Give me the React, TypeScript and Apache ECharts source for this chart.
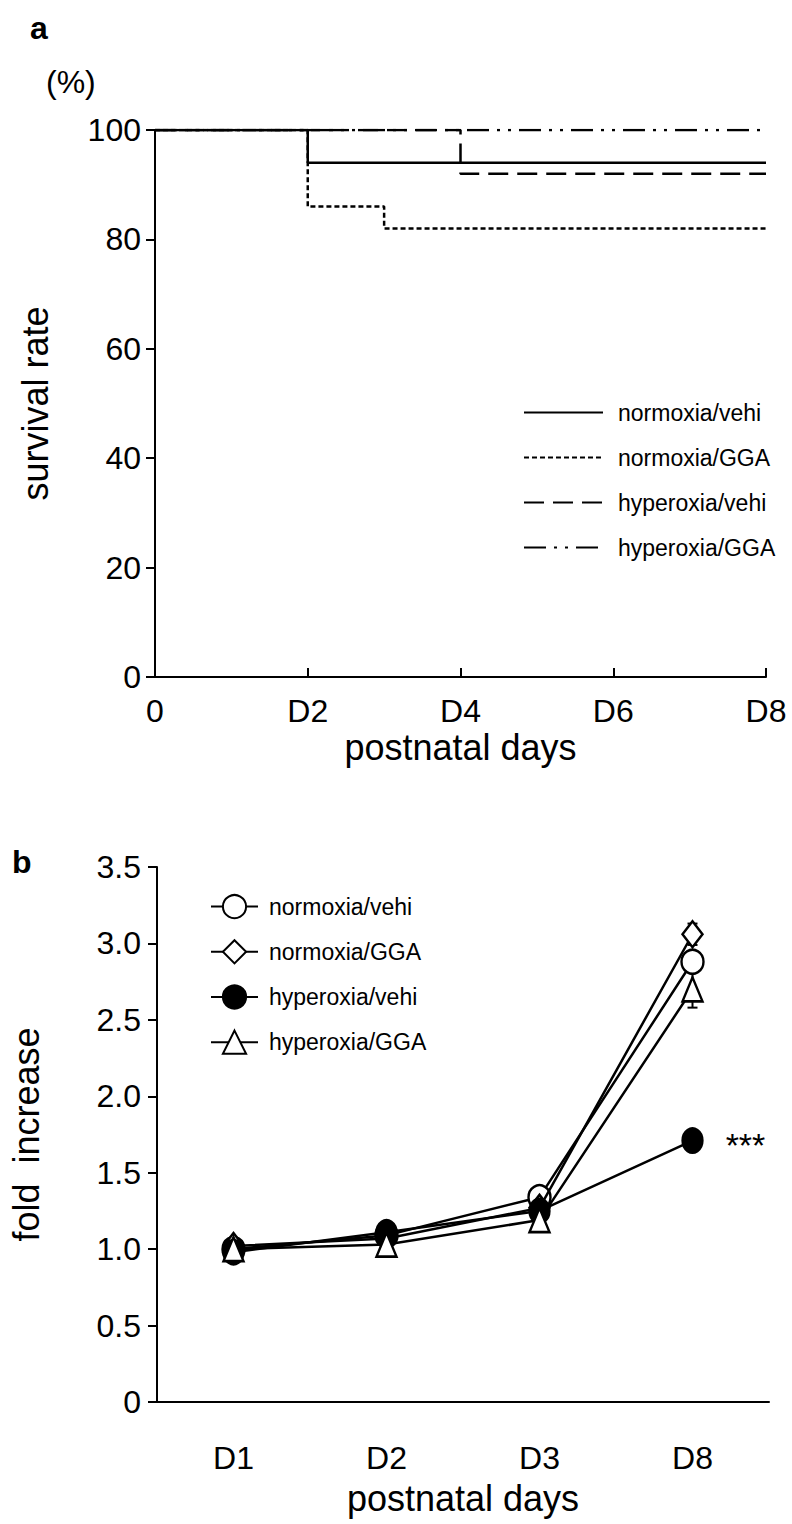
import React, { useEffect, useRef } from "react";
import * as echarts from "echarts";

// ---- Panel a: survival (Kaplan–Meier style steps) ----
const survivalDays = [0, 2, 3, 4, 8];
const survNormVehi = [100, 94, 94, 94, 94];
const survNormGGA = [100, 86, 82, 82, 82];
const survHypVehi = [100, 100, 100, 92, 92];
const survHypGGA = [100, 100, 100, 100, 100];
const survTickValues = [0, 2, 4, 6, 8];
const survTickLabels = ["0", "D2", "D4", "D6", "D8"];

// ---- Panel b: fold increase ----
const foldDays = ["D1", "D2", "D3", "D8"];
const foldNormVehi = [1.0, 1.09, 1.34, 2.88];
const foldNormGGA = [1.02, 1.07, 1.27, 3.06];
const foldHypVehi = [0.98, 1.11, 1.25, 1.71];
const foldHypGGA = [1.0, 1.03, 1.19, 2.7];
const errNormVehi = [0.03, 0.02, 0.03, 0.06];
const errNormGGA = [0.02, 0.02, 0.03, 0.07];
const errHypVehi = [0.03, 0.02, 0.03, 0.03];
const errHypGGA = [0.02, 0.02, 0.03, 0.12];

const seriesNames = ["normoxia/vehi", "normoxia/GGA", "hyperoxia/vehi", "hyperoxia/GGA"];

const FONT = "'Liberation Sans', Arial, Helvetica, sans-serif";

export default function App() {
  const ref = useRef<HTMLDivElement>(null);

  useEffect(() => {
    if (!ref.current) return;
    const chart = echarts.init(ref.current, undefined, { renderer: "svg" });

    const pair = (ys: number[]) => survivalDays.map((d, i) => [d, ys[i]]);
    const survStyles: any[] = [
      { data: survNormVehi, type: "solid" },
      { data: survNormGGA, type: [5, 3] },
      { data: survHypVehi, type: [20, 9] },
      { data: survHypGGA, type: [22, 8, 3, 8, 3, 8] },
    ];

    const survSeries = survStyles.map((s, i) => ({
      name: "a|" + seriesNames[i],
      type: "line",
      xAxisIndex: 0,
      yAxisIndex: 0,
      step: "end",
      symbol: "none",
      data: pair(s.data),
      lineStyle: { color: "#000", width: 2.5, type: s.type },
      itemStyle: { color: "rgba(0,0,0,0)", borderWidth: 0 },
      z: 3 + i,
    }));

    const foldSets = [
      { data: foldNormVehi, err: errNormVehi, symbol: "circle", fill: "#fff", size: [22, 24] },
      { data: foldNormGGA, err: errNormGGA, symbol: "diamond", fill: "#fff", size: [20, 26] },
      { data: foldHypVehi, err: errHypVehi, symbol: "circle", fill: "#000", size: [20, 24] },
      { data: foldHypGGA, err: errHypGGA, symbol: "triangle", fill: "#fff", size: [20, 24] },
    ];

    const errSeries = foldSets.map((s, i) => ({
      name: "err|" + seriesNames[i],
      type: "custom",
      xAxisIndex: 1,
      yAxisIndex: 1,
      z: 1,
      silent: true,
      encode: { x: 0, y: [1, 2] },
      data: s.data.map((v, j) => [j, v - s.err[j], v + s.err[j]]),
      renderItem: (params: any, api: any) => {
        const x = api.value(0);
        const lo = api.coord([x, api.value(1)]);
        const hi = api.coord([x, api.value(2)]);
        const w = 5;
        const st = { stroke: "#000", lineWidth: 2 };
        return {
          type: "group",
          children: [
            { type: "line", shape: { x1: lo[0], y1: lo[1], x2: hi[0], y2: hi[1] }, style: st },
            { type: "line", shape: { x1: lo[0] - w, y1: lo[1], x2: lo[0] + w, y2: lo[1] }, style: st },
            { type: "line", shape: { x1: hi[0] - w, y1: hi[1], x2: hi[0] + w, y2: hi[1] }, style: st },
          ],
        };
      },
    }));

    const foldSeries = foldSets.map((s, i) => ({
      name: "b|" + seriesNames[i],
      type: "line",
      xAxisIndex: 1,
      yAxisIndex: 1,
      symbol: s.symbol,
      symbolSize: s.size,
      showAllSymbol: true,
      data: s.data.map((v, j) =>
        i === 2 && j === 3
          ? {
              value: v,
              label: {
                show: true,
                position: "right",
                distance: 22,
                formatter: "***",
                fontSize: 34,
                fontFamily: FONT,
                color: "#000",
                offset: [0, 4],
              },
            }
          : v
      ),
      lineStyle: { color: "#000", width: 2.5 },
      itemStyle: { color: s.fill, borderColor: "#000", borderWidth: 2.5 },
      z: 3 + i,
    }));

    const axisLine = { show: true, lineStyle: { color: "#000", width: 2 } };
    const stripName = (n: string) => n.split("|")[1];

    chart.setOption({
      animation: false,
      backgroundColor: "#fff",
      textStyle: { fontFamily: FONT, color: "#000" },
      grid: [
        { left: 155, top: 130, width: 611, height: 547, containLabel: false },
        { left: 153, top: 867, width: 616, height: 535, containLabel: false },
      ],
      legend: [
        {
          data: seriesNames.map((n) => "a|" + n),
          formatter: stripName,
          orient: "vertical",
          left: 518,
          top: 396,
          itemWidth: 79,
          itemHeight: 24,
          itemGap: 22,
          selectedMode: false,
          itemStyle: { color: "rgba(0,0,0,0)", borderColor: "rgba(0,0,0,0)", borderWidth: 0 },
          textStyle: { fontSize: 23, fontFamily: FONT, color: "#000", padding: [0, 0, 0, 10] },
        },
        {
          data: seriesNames.map((n) => "b|" + n),
          formatter: stripName,
          orient: "vertical",
          left: 205,
          top: 889,
          itemWidth: 47,
          itemHeight: 29,
          itemGap: 20,
          selectedMode: false,
          textStyle: { fontSize: 23, fontFamily: FONT, color: "#000", padding: [0, 0, 0, 6] },
        },
      ],
      xAxis: [
        {
          gridIndex: 0,
          type: "value",
          min: 0,
          max: 8,
          interval: 2,
          axisLine,
          axisTick: { show: true, inside: true, length: 9, lineStyle: { color: "#000", width: 2 } },
          splitLine: { show: false },
          axisLabel: {
            fontSize: 32,
            fontFamily: FONT,
            color: "#000",
            margin: 18,
            formatter: (v: number) => {
              const k = survTickValues.indexOf(v);
              return k >= 0 ? survTickLabels[k] : "";
            },
          },
          name: "postnatal days",
          nameLocation: "middle",
          nameGap: 52,
          nameTextStyle: { fontSize: 36, fontFamily: FONT, color: "#000" },
        },
        {
          gridIndex: 1,
          type: "category",
          data: foldDays,
          boundaryGap: true,
          axisLine,
          axisTick: { show: false },
          axisLabel: { fontSize: 32, fontFamily: FONT, color: "#000", margin: 40 },
          name: "postnatal days",
          nameLocation: "middle",
          nameGap: 78,
          nameTextStyle: { fontSize: 36, fontFamily: FONT, color: "#000" },
        },
      ],
      yAxis: [
        {
          gridIndex: 0,
          type: "value",
          min: 0,
          max: 100,
          interval: 20,
          axisLine,
          axisTick: { show: true, length: 9, lineStyle: { color: "#000", width: 2 } },
          splitLine: { show: false },
          axisLabel: { fontSize: 32, fontFamily: FONT, color: "#000", margin: 14 },
          name: "survival rate",
          nameLocation: "middle",
          nameRotate: 90,
          nameGap: 102,
          nameTextStyle: { fontSize: 36, fontFamily: FONT, color: "#000" },
        },
        {
          gridIndex: 1,
          type: "value",
          min: 0,
          max: 3.5,
          interval: 0.5,
          axisLine,
          axisTick: { show: true, length: 9, lineStyle: { color: "#000", width: 2 } },
          splitLine: { show: false },
          axisLabel: {
            fontSize: 32,
            fontFamily: FONT,
            color: "#000",
            margin: 16,
            formatter: (v: number) => (v === 0 ? "0" : v.toFixed(1)),
          },
          name: "fold  increase",
          nameLocation: "middle",
          nameRotate: 90,
          nameGap: 113,
          nameTextStyle: { fontSize: 36, fontFamily: FONT, color: "#000" },
        },
      ],
      graphic: [
        { type: "text", left: 30, top: 12, style: { text: "a", fontSize: 32, fontWeight: "bold", fontFamily: FONT, fill: "#000" } },
        { type: "text", left: 46, top: 66, style: { text: "(%)", fontSize: 32, fontFamily: FONT, fill: "#000" } },
        { type: "text", left: 12, top: 846, style: { text: "b", fontSize: 32, fontWeight: "bold", fontFamily: FONT, fill: "#000" } },
      ],
      series: [...survSeries, ...errSeries, ...foldSeries],
    });

    return () => chart.dispose();
  }, []);

  return (
    <div
      ref={ref}
      style={{ position: "absolute", left: 0, top: 0, width: 792, height: 1524 }}
    />
  );
}
